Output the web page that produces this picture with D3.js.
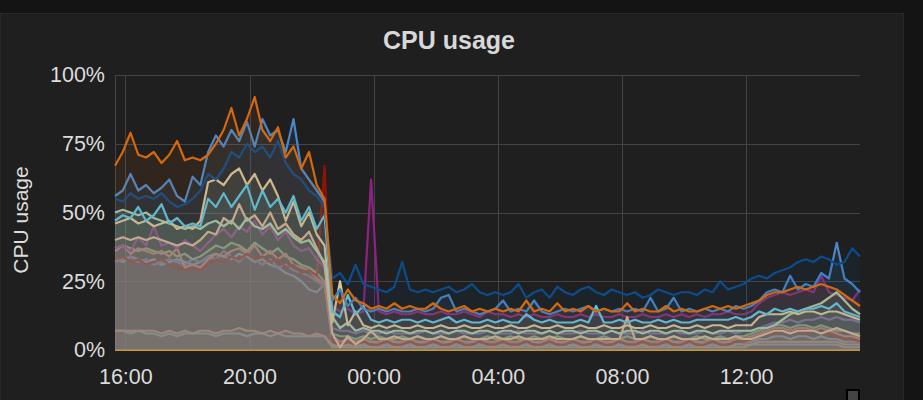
<!DOCTYPE html>
<html>
<head>
<meta charset="utf-8">
<script src="https://cdnjs.cloudflare.com/ajax/libs/d3/7.8.5/d3.min.js"></script>
<style>
  body { margin: 0; background: #141414; }
  svg { display: block; }
</style>
</head>
<body>
<div id="chart"></div>
<script>
// one sample every 15 minutes, 15:40 -> 15:40 next day (97 samples)
var startTime = new Date(2017, 4, 10, 15, 40);
var stepMinutes = 15;
var sampleCount = 97;

var yTicks = [0, 25, 50, 75, 100];

// values in percent
var cpuOrange = [
  67,72,79,71,70,72,68,71,76,69, 70,69,71,75,80,88,78,84,92,80, 76,81,70,74,66,72,60,55,
  20,17,22,18,17,15,16,15,17,15, 16,15,15,17,15,14,15,16,14,15, 14,15,14,15,14,18,14,15,14,17,
  14,15,14,16,14,15,14,14,17,14, 15,14,14,16,14,15,14,14,15,16, 15,16,15,16,17,18,20,21,21,22,
  23,22,23,24,23,22,20,18,16];
var cpuNavy = [
  55,54,57,55,56,55,57,54,52,53, 55,58,64,62,66,72,70,75,72,74, 70,76,68,64,62,58,56,52,
  26,28,24,31,24,23,22,21,23,32, 22,21,22,21,22,23,21,22,24,21, 20,21,20,21,24,19,21,22,19,23,
  21,20,22,23,21,20,22,21,20,21, 19,20,22,21,20,21,21,20,22,21, 25,22,23,24,26,27,26,28,29,30,
  32,33,32,34,33,31,32,37,34];
var cpuBlue = [
  56,58,64,58,60,57,59,62,56,54, 63,60,72,78,74,80,76,83,74,84, 78,80,72,84,66,62,58,54,
  18,22,16,19,15,14,15,14,15,14, 14,15,14,15,19,20,14,15,14,13, 14,15,18,14,15,14,18,14,13,14,
  15,14,15,16,14,15,14,15,14,15, 14,19,14,15,19,14,15,14,15,14, 15,14,16,15,16,18,21,22,21,27,
  22,24,23,28,26,39,26,24,21];
var cpuCream = [
  46,47,48,46,47,45,46,47,44,45, 44,47,61,62,60,64,66,60,64,58, 62,56,47,54,45,50,42,38,
  10,25,9,14,9,8,9,8,9,8, 8,9,8,8,9,8,8,9,8,8, 9,8,8,9,8,8,9,8,8,9,
  8,8,9,8,8,9,8,8,9,8, 8,9,8,8,9,8,8,9,8,9, 9,8,9,9,9,12,13,13,13,14,
  13,14,14,13,14,14,13,12,11];
var cpuCyan = [
  47,49,48,52,47,49,53,46,48,45, 46,45,55,52,57,52,56,60,51,58, 52,55,50,56,47,52,44,49,
  14,12,20,13,16,11,10,11,10,11, 11,10,11,10,11,12,10,11,10,10, 11,10,11,10,10,13,11,10,11,10,
  10,10,11,10,16,10,10,11,10,11, 10,10,11,10,11,10,10,11,11,11, 11,11,12,11,12,14,13,15,14,15,
  14,15,15,16,15,17,14,13,12];
var cpuLightGreen = [
  50,51,50,49,50,48,47,46,45,44, 45,44,46,47,45,47,44,48,45,44, 46,42,44,41,39,40,36,32,
  12,8,10,7,8,7,7,6,7,7, 6,7,7,6,7,6,7,7,6,7, 7,6,7,7,6,7,7,6,7,6,
  7,7,6,7,7,6,7,6,7,7, 6,7,7,6,7,7,6,7,7,6, 7,7,7,7,7,8,8,9,11,13,
  14,15,16,17,19,21,18,15,13];
var cpuPeach = [
  40,41,40,41,40,41,40,39,38,39, 38,40,43,42,48,46,53,47,49,45, 50,44,46,42,40,43,37,31,
  6,1,5,2,4,7,4,4,5,4, 4,5,4,4,5,4,4,5,4,4, 4,5,4,4,5,4,4,4,5,4,
  4,4,5,4,4,4,4,4,12,4, 4,5,4,4,5,4,4,4,5,4, 4,4,5,4,4,5,6,7,7,6,
  7,7,7,6,7,8,7,6,5];
var cpuPlum = [
  37,38,36,41,38,45,38,39,37,40, 38,36,39,42,44,41,45,43,47,42, 45,40,43,38,36,37,33,30,
  16,14,15,13,14,62,14,13,14,13, 13,14,13,13,14,13,13,14,13,12, 14,13,13,12,13,12,13,12,12,13,
  12,12,13,12,13,12,12,13,12,12, 13,12,12,13,12,13,12,13,12,13, 13,14,13,13,14,17,19,20,21,20,
  21,22,21,27,21,20,19,18,22];
var cpuRose = [
  36,38,35,37,36,35,36,34,37,30, 31,30,33,35,34,36,37,35,38,34, 36,33,35,31,30,29,26,24,
  5,3,4,3,4,3,3,4,3,3, 4,3,3,4,3,3,4,3,3,4, 3,3,4,3,3,4,3,3,4,3,
  3,4,3,3,4,3,3,4,3,3, 4,3,3,4,3,3,4,3,3,4, 3,3,4,4,5,6,7,8,8,7,
  8,8,7,8,7,6,5,5,4];
var cpuDarkRed = [
  33,34,32,33,31,32,33,31,30,29, 30,29,31,33,32,34,33,35,33,34, 32,33,30,31,28,29,27,67,
  3,2,3,2,3,2,2,3,2,2, 3,2,2,3,2,2,3,2,2,3, 2,2,3,2,2,3,2,2,3,2,
  2,3,2,2,3,2,2,3,2,2, 3,2,2,3,2,2,3,2,2,3, 2,2,3,3,4,5,6,6,7,6,
  7,6,7,6,6,5,4,4,3];
var cpuGreen = [
  37,38,37,36,37,36,35,36,34,35, 33,34,36,38,37,39,38,36,39,37, 35,37,34,33,31,30,28,25,
  6,5,5,4,5,4,5,4,4,5, 4,5,4,4,5,4,4,5,4,4, 5,4,4,5,4,4,5,4,4,5,
  4,4,5,4,4,5,4,4,5,4, 4,5,4,4,5,4,4,5,4,4, 5,4,5,5,6,7,8,9,9,8,
  9,9,8,9,8,7,7,6,6];
var cpuViolet = [
  32,33,34,32,33,31,32,33,32,31, 33,32,34,33,36,34,32,35,33,31, 33,30,31,29,28,27,25,23,
  8,7,7,6,7,6,6,7,6,6, 6,6,7,6,6,6,7,6,6,6, 7,6,6,6,7,6,6,6,7,6,
  6,6,7,6,6,6,7,6,6,6, 7,6,6,6,7,6,6,6,7,6, 6,7,6,7,7,8,9,10,10,11,
  10,11,11,12,11,12,11,11,10];
var cpuLightBlue = [
  33,32,34,33,32,33,31,32,33,32, 31,32,34,35,34,33,35,34,32,33, 31,30,28,27,25,22,21,24,
  3,2,3,2,2,3,2,2,3,2, 2,3,2,2,2,3,2,2,3,2, 2,2,3,2,2,2,3,2,2,3,
  2,2,2,3,2,2,3,2,2,2, 3,2,2,2,3,2,2,3,2,2, 2,3,2,3,3,4,4,5,5,4,
  5,5,4,5,4,4,3,3,3];
var cpuLowOrange = [
  7,7,7,7,7,7,6,7,6,7, 6,7,7,6,7,7,8,7,7,6, 7,6,7,6,6,5,6,5,
  2,1,2,1,2,1,1,2,1,1, 2,1,1,2,1,1,2,1,1,2, 1,1,2,1,1,2,1,1,2,1,
  1,2,1,1,2,1,1,2,1,1, 2,1,1,2,1,1,2,1,1,2, 1,1,2,2,2,3,3,3,3,3,
  3,3,3,3,3,3,2,2,2];
var cpuLowBlue = [
  7,7,6,7,6,6,5,6,5,6, 6,6,6,5,6,6,6,5,6,6, 5,6,5,5,5,5,5,5,
  1,1,1,1,1,1,1,1,1,1, 1,1,1,1,1,1,1,1,1,1, 1,1,1,1,1,1,1,1,1,1,
  1,1,1,1,1,1,1,1,1,1, 1,1,1,1,1,1,1,1,1,1, 1,1,1,1,2,2,2,2,2,2,
  2,2,2,2,2,2,1,1,1];
var cpuIdle = [
  0,0,0,0,0,0,0,0,0,0, 0,0,0,0,0,0,0,0,0,0, 0,0,0,0,0,0,0,0,
  0,0,0,0,0,0,0,0,0,0, 0,0,0,0,0,0,0,0,0,0, 0,0,0,0,0,0,0,0,0,0,
  0,0,0,0,0,0,0,0,0,0, 0,0,0,0,0,0,0,0,0,0, 0,0,0,0,0,0,0,0,0,0,
  0,0,0,0,0,0,0,0,0];

function main(){
    var canvasWidth = 923;
    var canvasHeight = 400;
    var plotLeft = 115, plotRight = 860, plotTop = 75, plotBottom = 350;

    var times = d3.range(sampleCount).map(function(i) {
        return d3.timeMinute.offset(startTime, i * stepMinutes);
    });

    // drawn in this order, last one ends up on top
    var seriesList = [
        {values: cpuIdle,       color: "#C9972A"},
        {values: cpuLowBlue,    color: "#6FA6B8"},
        {values: cpuLowOrange,  color: "#D98F63"},
        {values: cpuLightBlue,  color: "#6B9CC0"},
        {values: cpuViolet,     color: "#6F5C9E"},
        {values: cpuGreen,      color: "#7AA56A"},
        {values: cpuRose,       color: "#C96A5C"},
        {values: cpuDarkRed,    color: "#8F1408"},
        {values: cpuPlum,       color: "#8A2480"},
        {values: cpuPeach,      color: "#F9BA8F"},
        {values: cpuLightGreen, color: "#B7DBAB"},
        {values: cpuCream,      color: "#F4D598"},
        {values: cpuCyan,       color: "#5FD6F0"},
        {values: cpuBlue,       color: "#4A86C8"},
        {values: cpuNavy,       color: "#0C4C8C"},
        {values: cpuOrange,     color: "#D4690F"}
    ];

    var svg = d3.select("#chart").append("svg")
        .attr("width", canvasWidth)
        .attr("height", canvasHeight)

    // panel
    svg.append("rect")
        .attr("x", 0.5).attr("y", 13.5)
        .attr("width", 903).attr("height", 400)
        .attr("fill", "#1f1f1f")
        .attr("stroke", "#292929")

    svg.append("text")
        .attr("x", 449).attr("y", 49)
        .attr("text-anchor", "middle")
        .attr("font-family", "Liberation Sans, Arial, sans-serif")
        .attr("font-weight", "bold")
        .attr("font-size", "25px")
        .attr("fill", "#d8d8d8")
        .text("CPU usage")

    var xScale = d3.scaleTime()
        .domain([times[0], times[times.length - 1]])
        .range([plotLeft, plotRight]);
    var yScale = d3.scaleLinear().domain([0, 100]).range([plotBottom, plotTop]);

    var xTicks = xScale.ticks(d3.timeHour.every(4));

    // grid
    var grid = svg.append("g").attr("stroke", "#444").attr("stroke-width", 1);
    grid.selectAll(".hgrid")
        .data(yTicks)
        .enter().append("line")
        .attr("x1", plotLeft).attr("x2", plotRight)
        .attr("y1", function(d) { return Math.round(yScale(d)) + 0.5; })
        .attr("y2", function(d) { return Math.round(yScale(d)) + 0.5; })
    grid.selectAll(".vgrid")
        .data([times[0]].concat(xTicks))
        .enter().append("line")
        .attr("x1", function(d) { return Math.round(xScale(d)) + 0.5; })
        .attr("x2", function(d) { return Math.round(xScale(d)) + 0.5; })
        .attr("y1", plotTop).attr("y2", plotBottom)

    var area = d3.area()
        .x(function(d, i) { return xScale(times[i]); })
        .y0(yScale(0))
        .y1(function(d) { return yScale(d); });
    var line = d3.line()
        .x(function(d, i) { return xScale(times[i]); })
        .y(function(d) { return yScale(d); });

    // Draw series: light fill, then the line
    var plot = svg.append("g");
    seriesList.forEach(function(s) {
        plot.append("path")
            .datum(s.values)
            .attr("d", area)
            .attr("fill", s.color)
            .attr("fill-opacity", 0.1)
        plot.append("path")
            .datum(s.values)
            .attr("d", line)
            .attr("fill", "none")
            .attr("stroke", s.color)
            .attr("stroke-width", 2.2)
            .attr("stroke-linejoin", "round")
    });

    // Display the Y-axis
    var yAxis = svg.append("g")
        .attr("transform", "translate(" + plotLeft + ",0)")
        .call(d3.axisLeft(yScale).tickValues(yTicks).tickSize(0).tickPadding(10)
            .tickFormat(function(d) { return d + "%"; }));

    // Display the X-axis
    var xAxis = svg.append("g")
        .attr("transform", "translate(0," + plotBottom + ")")
        .call(d3.axisBottom(xScale).tickValues(xTicks).tickSize(0).tickPadding(19)
            .tickFormat(d3.timeFormat("%H:%M")));

    [yAxis, xAxis].forEach(function(ax) {
        ax.select(".domain").remove();
        ax.selectAll("text")
            .attr("font-family", "Liberation Sans, Arial, sans-serif")
            .attr("font-size", "21.5px")
            .attr("fill", "#dcdcdc")
    });

    svg.append("text")
        .attr("transform", "translate(28,220) rotate(-90)")
        .attr("text-anchor", "middle")
        .attr("font-family", "Liberation Sans, Arial, sans-serif")
        .attr("font-size", "21px")
        .attr("fill", "#dcdcdc")
        .text("CPU usage")

    // resize handle
    svg.append("rect")
        .attr("x", 847).attr("y", 390)
        .attr("width", 12).attr("height", 14)
        .attr("fill", "#444")
        .attr("stroke", "#000")
        .attr("stroke-width", 2)
}

main()
</script>
</body>
</html>
